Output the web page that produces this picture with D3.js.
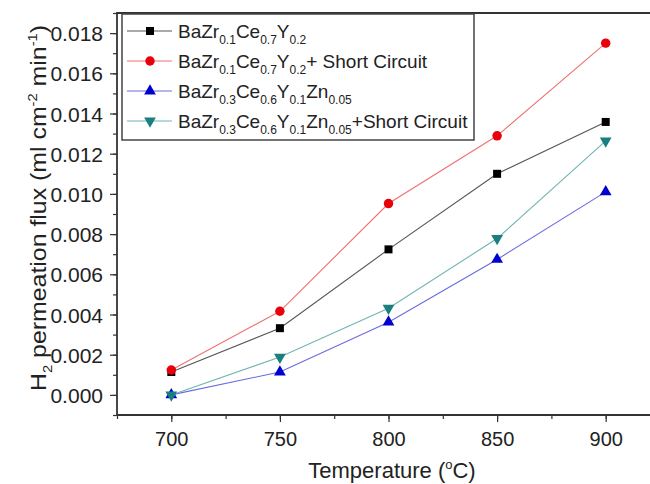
<!DOCTYPE html>
<html lang="en">
<head>
<meta charset="UTF-8">
<title>H2 permeation flux</title>
<script src="https://d3js.org/d3.v7.min.js"></script>
<style>
  body { margin: 0; background: #fff; }
  svg text { font-family: "Liberation Sans", Arial, sans-serif; fill: #222; }
  .axis path, .axis line { stroke: #333; }
</style>
</head>
<body>
<svg id="chart" width="650" height="484"></svg>
<script>
// data
const temps = [700, 750, 800, 850, 900];
const bzcy = [0.00114, 0.00332, 0.00724, 0.0110, 0.01358];
const bzcySC = [0.00124, 0.00416, 0.00952, 0.01289, 0.0175];
const bzcyz = [0, 0.00114, 0.00362, 0.00674, 0.0101];
const bzcyzSC = [0, 0.00188, 0.00431, 0.00778, 0.01264];
const xTicks = [700, 750, 800, 850, 900];
const yTicks = [0, 0.002, 0.004, 0.006, 0.008, 0.010, 0.012, 0.014, 0.016, 0.018];

// legend labels, [text, subscript?]
const labels = [
  [["BaZr", 0], ["0.1", 1], ["Ce", 0], ["0.7", 1], ["Y", 0], ["0.2", 1]],
  [["BaZr", 0], ["0.1", 1], ["Ce", 0], ["0.7", 1], ["Y", 0], ["0.2", 1], ["+ Short Circuit", 0]],
  [["BaZr", 0], ["0.3", 1], ["Ce", 0], ["0.6", 1], ["Y", 0], ["0.1", 1], ["Zn", 0], ["0.05", 1]],
  [["BaZr", 0], ["0.3", 1], ["Ce", 0], ["0.6", 1], ["Y", 0], ["0.1", 1], ["Zn", 0], ["0.05", 1], ["+Short Circuit", 0]]
];

const series = [
  { values: bzcy, fill: "#000000", line: "#555555", shape: d3.symbolSquare, size: 64, rot: 0 },
  { values: bzcySC, fill: "#e8000b", line: "#f07070", shape: d3.symbolCircle, size: 70, rot: 0 },
  { values: bzcyz, fill: "#0000d0", line: "#6a6ae0", shape: d3.symbolTriangle, size: 60, rot: 0 },
  { values: bzcyzSC, fill: "#1a7f7f", line: "#70b4b4", shape: d3.symbolTriangle, size: 60, rot: 180 }
];

const svg = d3.select("#chart");
const mLeft = 117, mRight = 660, mTop = 13, mBottom = 415;

const x = d3.scaleLinear().domain([675, 925]).range([mLeft, mRight]);
const y = d3.scaleLinear().domain([-0.001, 0.019]).range([mBottom, mTop]);

// minor ticks
svg.append("g").attr("class", "axis")
  .attr("transform", `translate(${mLeft},0)`)
  .call(d3.axisLeft(y).tickValues(d3.range(-0.001, 0.0195, 0.001)).tickSize(4).tickFormat(""))
  .call(g => g.select(".domain").remove())
  .call(g => g.selectAll("text").remove())
  .selectAll("line").attr("stroke-width", 1.2);
svg.append("g").attr("class", "axis")
  .attr("transform", `translate(0,${mBottom})`)
  .call(d3.axisBottom(x).tickValues(d3.range(675, 926, 25)).tickSize(4).tickFormat(""))
  .call(g => g.select(".domain").remove())
  .call(g => g.selectAll("text").remove())
  .selectAll("line").attr("stroke-width", 1.2);

// major ticks
const yAxis = svg.append("g").attr("class", "axis")
  .attr("transform", `translate(${mLeft},0)`)
  .call(d3.axisLeft(y).tickValues(yTicks).tickSize(7).tickPadding(7).tickFormat(d3.format(".3f")));
yAxis.select(".domain").remove();
yAxis.selectAll("line").attr("stroke-width", 1.2);
yAxis.selectAll("text").attr("font-size", 21).attr("fill", "#222").attr("dy", "0.36em");

const xAxis = svg.append("g").attr("class", "axis")
  .attr("transform", `translate(0,${mBottom})`)
  .call(d3.axisBottom(x).tickValues(xTicks).tickSize(7).tickPadding(10).tickFormat(d3.format("d")));
xAxis.select(".domain").remove();
xAxis.selectAll("line").attr("stroke-width", 1.2);
xAxis.selectAll("text").attr("font-size", 20).attr("fill", "#222");

// frame
svg.append("path")
  .attr("d", `M${mRight},${mTop}H${mLeft}V${mBottom}H${mRight}`)
  .attr("fill", "none").attr("stroke", "#333").attr("stroke-width", 1.8);

// series
const line = d3.line().x((d, i) => x(temps[i])).y(d => y(d));
series.forEach(s => {
  svg.append("path").datum(s.values)
    .attr("d", line)
    .attr("fill", "none").attr("stroke", s.line).attr("stroke-width", 1.1);
});
series.forEach(s => {
  svg.selectAll(null).data(s.values).enter().append("path")
    .attr("d", d3.symbol().type(s.shape).size(s.size))
    .attr("transform", (d, i) => `translate(${x(temps[i])},${y(d)}) rotate(${s.rot})`)
    .attr("fill", s.fill);
});

// legend
const lg = svg.append("g");
lg.append("rect").attr("x", 122).attr("y", 14).attr("width", 352).attr("height", 126)
  .attr("fill", "#fff").attr("stroke", "#444").attr("stroke-width", 1.5);
series.forEach((s, i) => {
  const yy = 31 + i * 30;
  lg.append("line").attr("x1", 127).attr("x2", 172).attr("y1", yy).attr("y2", yy)
    .attr("stroke", s.line).attr("stroke-width", 1.1);
  lg.append("path").attr("d", d3.symbol().type(s.shape).size(s.size))
    .attr("transform", `translate(150,${yy}) rotate(${s.rot})`).attr("fill", s.fill);
  const t = lg.append("text").attr("x", 178).attr("y", yy + 7).attr("font-size", 19);
  let shift = 0;
  labels[i].forEach(([txt, sub]) => {
    const dy = sub ? 6 - shift : -shift;
    shift = sub ? 6 : 0;
    t.append("tspan").text(txt)
      .attr("font-size", sub ? 12 : 19)
      .attr("dy", dy);
  });
});

// axis titles
svg.append("text").attr("x", 392).attr("y", 478).attr("text-anchor", "middle").attr("font-size", 22)
  .call(t => {
    t.append("tspan").text("Temperature (");
    t.append("tspan").text("o").attr("font-size", 13).attr("dy", -9);
    t.append("tspan").text("C)").attr("dy", 9);
  });

svg.append("text")
  .attr("transform", "translate(46,208) rotate(-90)")
  .attr("text-anchor", "middle").attr("font-size", 22)
  .attr("textLength", 366).attr("lengthAdjust", "spacingAndGlyphs")
  .call(t => {
    t.append("tspan").text("H");
    t.append("tspan").text("2").attr("font-size", 13).attr("dy", 6);
    t.append("tspan").text(" permeation flux (ml cm").attr("dy", -6);
    t.append("tspan").text("-2").attr("font-size", 13).attr("dy", -9);
    t.append("tspan").text(" min").attr("dy", 9);
    t.append("tspan").text("-1").attr("font-size", 13).attr("dy", -9);
    t.append("tspan").text(")").attr("dy", 9);
  });
</script>
</body>
</html>
